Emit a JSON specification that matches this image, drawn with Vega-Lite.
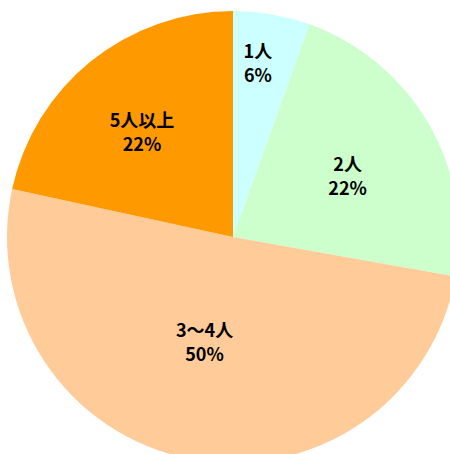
{
  "$schema": "https://vega.github.io/schema/vega-lite/v6.json",
  "width": 466,
  "height": 474,
  "padding": 0,
  "autosize": "none",
  "background": "white",
  "config": {
    "view": {"stroke": null},
    "text": {
      "font": "Noto Sans CJK JP",
      "fontWeight": "bold",
      "fontSize": 18,
      "lineHeight": 24,
      "lineBreak": "\n",
      "align": "center",
      "baseline": "middle",
      "color": "black"
    }
  },
  "data": {
    "values": [
      {"cat": "1人", "pct": "6%", "value": 5.5, "ord": 1},
      {"cat": "2人", "pct": "22%", "value": 22.3, "ord": 2},
      {"cat": "3〜4人", "pct": "50%", "value": 50.6, "ord": 3},
      {"cat": "5人以上", "pct": "22%", "value": 21.6, "ord": 4}
    ]
  },
  "transform": [
    {"calculate": "datum.cat + '\\n' + datum.pct", "as": "label"},
    {"window": [{"op": "sum", "field": "value", "as": "cum"}], "sort": [{"field": "ord", "order": "ascending"}]},
    {"calculate": "datum.cum - datum.value / 2", "as": "mid"}
  ],
  "layer": [
    {
      "mark": {"type": "arc", "radius": 226, "stroke": null},
      "encoding": {
        "theta": {"field": "value", "type": "quantitative", "stack": true, "scale": {"domain": [0, 100]}},
        "order": {"field": "ord", "type": "quantitative"},
        "color": {
          "field": "cat",
          "type": "nominal",
          "scale": {
            "domain": ["1人", "2人", "3〜4人", "5人以上"],
            "range": ["#CCFFFF", "#CCFFCC", "#FFCC99", "#FF9900"]
          },
          "legend": null
        }
      }
    },
    {
      "transform": [{"filter": "datum.cat === '1人'"}],
      "mark": {"type": "text", "radius": 174, "dx": -5, "dy": -13},
      "encoding": {
        "theta": {"field": "mid", "type": "quantitative", "stack": null, "scale": {"domain": [0, 100]}},
        "text": {"field": "label", "type": "nominal"}
      }
    },
    {
      "transform": [{"filter": "datum.cat === '2人'"}],
      "mark": {"type": "text", "radius": 129, "dx": 3, "dy": -6},
      "encoding": {
        "theta": {"field": "mid", "type": "quantitative", "stack": null, "scale": {"domain": [0, 100]}},
        "text": {"field": "label", "type": "nominal"}
      }
    },
    {
      "transform": [{"filter": "datum.cat === '3〜4人'"}],
      "mark": {"type": "text", "radius": 111, "dx": -7, "dy": -14},
      "encoding": {
        "theta": {"field": "mid", "type": "quantitative", "stack": null, "scale": {"domain": [0, 100]}},
        "text": {"field": "label", "type": "nominal"}
      }
    },
    {
      "transform": [{"filter": "datum.cat === '5人以上'"}],
      "mark": {"type": "text", "radius": 137, "dx": -5, "dy": -8},
      "encoding": {
        "theta": {"field": "mid", "type": "quantitative", "stack": null, "scale": {"domain": [0, 100]}},
        "text": {"field": "label", "type": "nominal"}
      }
    }
  ]
}
